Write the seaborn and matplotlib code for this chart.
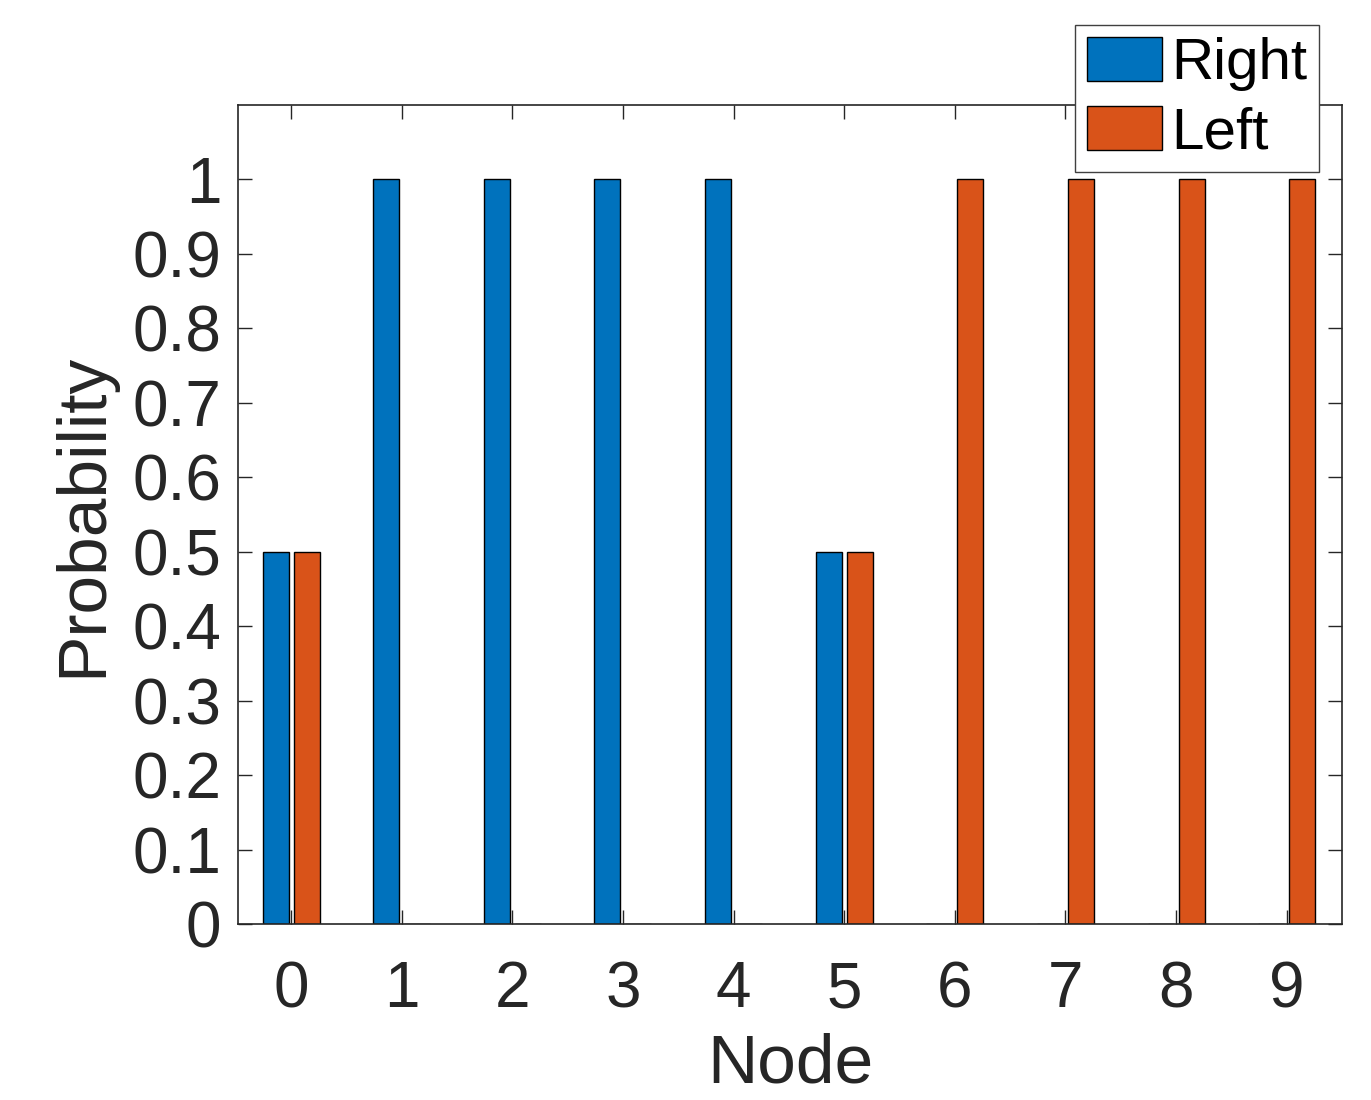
import numpy as np
import pandas as pd
import seaborn as sns
import matplotlib
matplotlib.use("Agg")
import matplotlib.pyplot as plt

nodes = [0, 1, 2, 3, 4, 5, 6, 7, 8, 9]
right = [0.5, 1, 1, 1, 1, 0.5, 0, 0, 0, 0]
left = [0.5, 0, 0, 0, 0, 0.5, 1, 1, 1, 1]
directions = ["Right", "Left"]
colors = ["#0072BD", "#D95319"]

df = pd.DataFrame({
    "Node": nodes * 2,
    "Probability": right + left,
    "Direction": ["Right"] * len(nodes) + ["Left"] * len(nodes),
})

sns.set_style("white")
plt.rcParams["font.family"] = ["Liberation Sans", "DejaVu Sans"]

fig = plt.figure(figsize=(13.71, 11), dpi=100)
ax = fig.add_axes([238 / 1371, 1 - 924 / 1100, (1342 - 238) / 1371, (924 - 105) / 1100])

sns.barplot(data=df, x="Node", y="Probability", hue="Direction", hue_order=directions,
            palette=colors, saturation=1, width=0.56, gap=0.16, edgecolor="black",
            linewidth=1, ax=ax, legend=True)

ax.set_xlim(-0.48, 9.5)
ax.set_ylim(0, 1.1)
ax.set_yticks(np.arange(0, 1.01, 0.1))
ax.set_yticklabels(["0", "0.1", "0.2", "0.3", "0.4", "0.5", "0.6", "0.7", "0.8", "0.9", "1"])

tc = "#262626"
for s in ax.spines.values():
    s.set_color(tc)
    s.set_linewidth(1.2)
    s.set_visible(True)
ax.tick_params(direction="in", length=10, width=1, colors=tc, labelsize=46,
               top=True, right=True, bottom=True, left=True, pad=12)
ax.tick_params(axis="x", pad=26)
ax.set_xlabel("Node", fontsize=50, color=tc, labelpad=9)
ax.set_ylabel("Probability", fontsize=50, color=tc, labelpad=12)

handles, labels = ax.get_legend_handles_labels()
ax.get_legend().remove()
leg = fig.legend(handles, labels, loc="upper right",
                 bbox_to_anchor=(1319 / 1371, 1 - 25 / 1100),
                 fontsize=42, frameon=True, fancybox=False, framealpha=1,
                 edgecolor="#404040", borderpad=0.2, handlelength=1.3,
                 handleheight=0.8, handletextpad=0.15, labelspacing=0.25,
                 borderaxespad=0, labelcolor="black")
leg.get_frame().set_linewidth(1)

fig.savefig("out.png", dpi=100)
